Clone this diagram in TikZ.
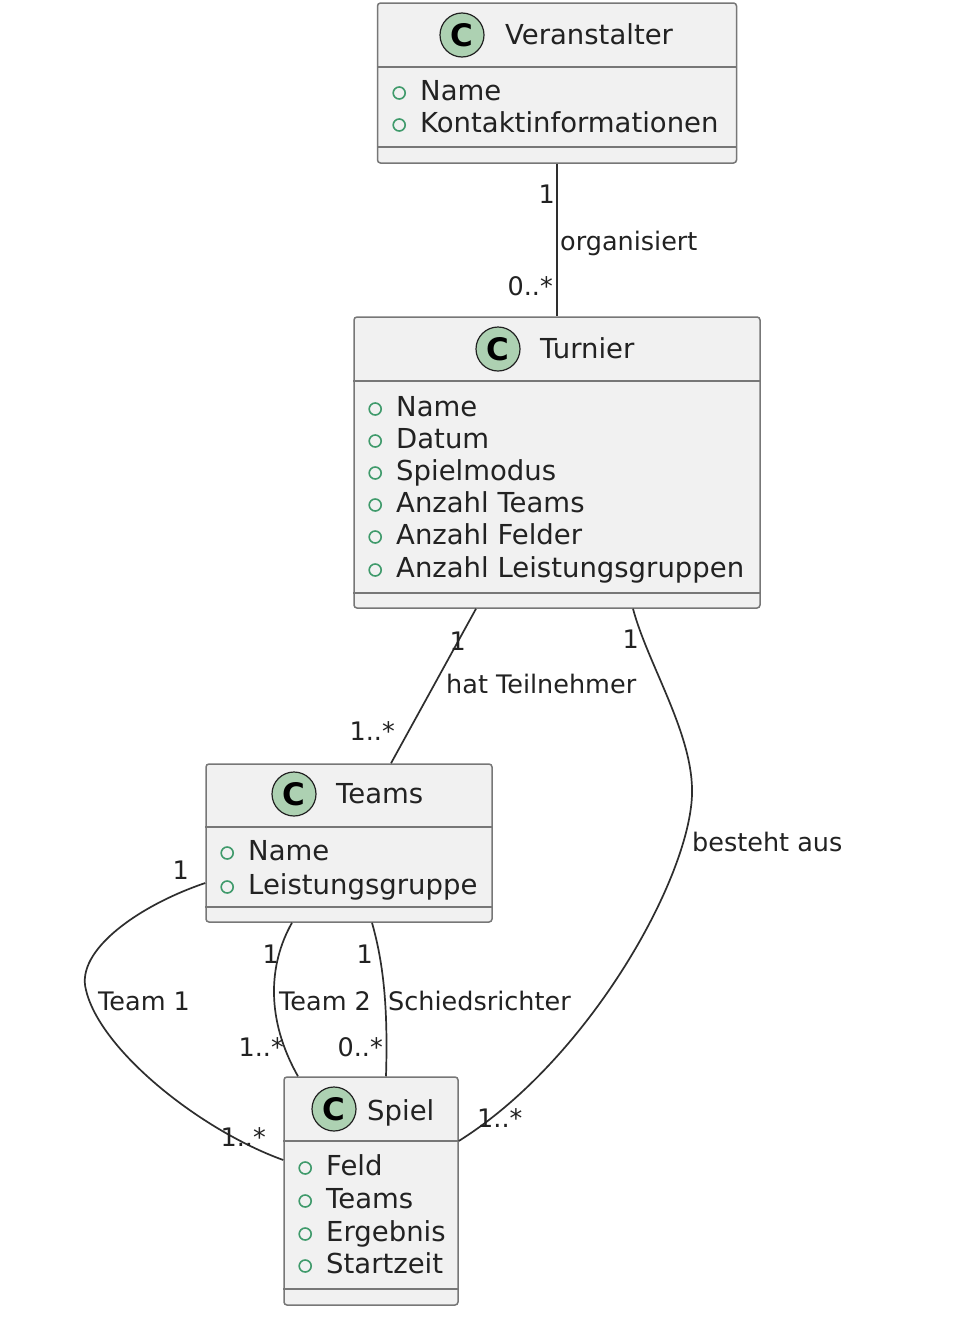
\documentclass[tikz,border=0pt]{standalone}
\usepackage{fontspec}
\setmainfont{DejaVu Sans}
\usetikzlibrary{positioning}
\definecolor{boxfill}{HTML}{F1F1F1}
\definecolor{boxline}{HTML}{777777}
\definecolor{linkline}{HTML}{2E2E2E}
\definecolor{iconfill}{HTML}{ADD1B2}
\definecolor{attrgreen}{HTML}{3F9A6B}
\definecolor{txt}{HTML}{222222}
\tikzset{
classbox/.style = {draw=boxline, fill=boxfill, rectangle, rounded corners=3pt, line width=1.5pt},
sepline/.style = {draw=boxline, line width=1.5pt},
classicon/.style = {draw=txt, fill=iconfill, circle, minimum size=44pt, inner sep=0pt, line width=1.2pt, font=\fontsize{31}{31}\selectfont\bfseries},
classtitle/.style = {anchor=base west, inner sep=0pt, text=txt, font=\fontsize{27.5}{32}\selectfont},
bulletdot/.style = {draw=attrgreen, circle, minimum size=12pt, inner sep=0pt, line width=1.6pt, text height=0pt, text depth=0pt},
attr/.style = {anchor=base west, inner sep=0pt, text height=20pt, text depth=6pt, text=txt, font=\fontsize{27.5}{32}\selectfont, label={[bulletdot, xshift=-14pt]left:{}}},
assoc/.style = {draw=linkline, line width=1.7pt},
mult/.style = {anchor=base east, inner sep=0pt, text=txt, font=\fontsize{25.5}{30}\selectfont},
linklabel/.style = {anchor=base west, inner sep=0pt, text=txt, font=\fontsize{25.5}{30}\selectfont}
}
\begin{document}
\begin{tikzpicture}[x=1pt, y=-1pt]
  \useasboundingbox[fill=white] (0,0) rectangle (972,1328);

  \node [classbox, minimum width=359pt, minimum height=160pt] (veranstalter) at (557,83)    {};
  \node [classbox, minimum width=406pt, minimum height=291pt] (turnier)      at (557,462.5) {};
  \node [classbox, minimum width=286pt, minimum height=158pt] (teams)        at (349,843)   {};
  \node [classbox, minimum width=174pt, minimum height=228pt] (spiel)        at (371,1191)  {};

  \draw [sepline] (veranstalter.west |- 0,67)  -- (veranstalter.east |- 0,67);
  \draw [sepline] (veranstalter.west |- 0,147) -- (veranstalter.east |- 0,147);
  \draw [sepline] (turnier.west |- 0,381)      -- (turnier.east |- 0,381);
  \draw [sepline] (turnier.west |- 0,593)      -- (turnier.east |- 0,593);
  \draw [sepline] (teams.west |- 0,827)        -- (teams.east |- 0,827);
  \draw [sepline] (teams.west |- 0,907)        -- (teams.east |- 0,907);
  \draw [sepline] (spiel.west |- 0,1141)       -- (spiel.east |- 0,1141);
  \draw [sepline] (spiel.west |- 0,1289)       -- (spiel.east |- 0,1289);

  \node [classicon]  (vicon)  at (462,35)   {C};
  \node [classtitle] (vtitle) at (505,44)   {Veranstalter};
  \node [classicon]  (ticon)  at (498,349)  {C};
  \node [classtitle] (ttitle) at (540,358)  {Turnier};
  \node [classicon]  (eicon)  at (294,794)  {C};
  \node [classtitle] (etitle) at (336,803)  {Teams};
  \node [classicon]  (sicon)  at (334,1109) {C};
  \node [classtitle] (stitle) at (367,1120) {Spiel};

  \node [attr] (va1) at (420,100)  {Name};
  \node [attr] (va2) at (420,132)  {Kontaktinformationen};
  \node [attr] (ta1) at (396,416)  {Name};
  \node [attr] (ta2) at (396,448)  {Datum};
  \node [attr] (ta3) at (396,480)  {Spielmodus};
  \node [attr] (ta4) at (396,512)  {Anzahl Teams};
  \node [attr] (ta5) at (396,544)  {Anzahl Felder};
  \node [attr] (ta6) at (396,577)  {Anzahl Leistungsgruppen};
  \node [attr] (ea1) at (248,860)  {Name};
  \node [attr] (ea2) at (248,894)  {Leistungsgruppe};
  \node [attr] (sa1) at (326,1175) {Feld};
  \node [attr] (sa2) at (326,1208) {Teams};
  \node [attr] (sa3) at (326,1241) {Ergebnis};
  \node [attr] (sa4) at (326,1273) {Startzeit};

  \draw [assoc] (veranstalter.south) -- (turnier.north);
  \draw [assoc] ([xshift=-81pt]turnier.south) -- ([xshift=42pt]teams.north);
  \draw [assoc] ([xshift=76pt]turnier.south) .. controls (648,665) and (694,735) .. (692,795) .. controls (689,880) and (588,1060) .. ([yshift=50pt]spiel.east);
  \draw [assoc] ([yshift=-40pt]teams.west) .. controls (140,905) and (75,950) .. (86,990) .. controls (100,1050) and (200,1130) .. ([yshift=31pt]spiel.west);
  \draw [assoc] ([xshift=-57pt]teams.south) .. controls (268,965) and (266,1020) .. ([xshift=-73pt]spiel.north);
  \draw [assoc] ([xshift=23pt]teams.south) .. controls (384,965) and (388,1010) .. ([xshift=15pt]spiel.north);

  \node [mult]      (m1a) at (555,203)  {1};
  \node [linklabel] (l1)  at (560,250)  {organisiert};
  \node [mult]      (m1b) at (553,295)  {0..*};
  \node [mult]      (m2a) at (466,650)  {1};
  \node [linklabel] (l2)  at (446,693)  {hat Teilnehmer};
  \node [mult]      (m2b) at (395,740)  {1..*};
  \node [mult]      (m3a) at (639,648)  {1};
  \node [linklabel] (l3)  at (692,851)  {besteht aus};
  \node [linklabel] (m3b) at (477,1127) {1..*};
  \node [mult]      (m4a) at (189,879)  {1};
  \node [linklabel] (l4)  at (98,1010)  {Team 1};
  \node [mult]      (m4b) at (266,1146) {1..*};
  \node [mult]      (m5a) at (279,963)  {1};
  \node [linklabel] (l5)  at (279,1010) {Team 2};
  \node [mult]      (m5b) at (284,1056) {1..*};
  \node [mult]      (m6a) at (373,963)  {1};
  \node [linklabel] (l6)  at (388,1010) {Schiedsrichter};
  \node [mult]      (m6b) at (383,1056) {0..*};
\end{tikzpicture}
\end{document}
